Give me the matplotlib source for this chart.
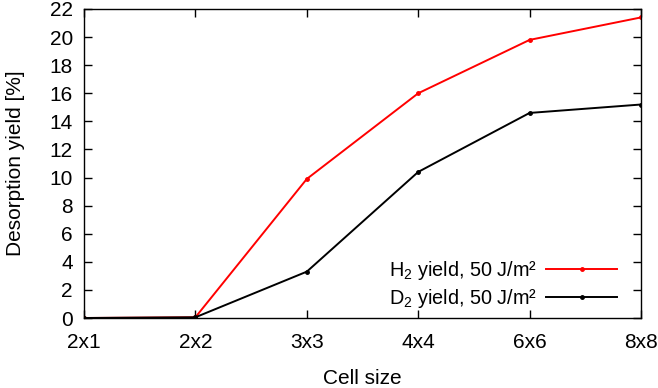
from matplotlib import pyplot as plt
import numpy as np

cell_sizes = ['2x1', '2x2', '3x3', '4x4', '6x6', '8x8']
h2_yield = [0.0, 0.05, 9.9, 16.0, 19.8, 21.4]
d2_yield = [0.0, 0.05, 3.3, 10.4, 14.6, 15.2]

plt.rcParams['font.family'] = ['Liberation Sans', 'DejaVu Sans']
plt.rcParams['mathtext.fontset'] = 'custom'
plt.rcParams['mathtext.rm'] = 'Liberation Sans'
plt.rcParams['mathtext.it'] = 'Liberation Sans'


def main():
    fig = plt.figure(figsize=(6.58, 3.88), dpi=100)
    ax = fig.add_axes([84 / 658, 70 / 388, 557 / 658, 309 / 388])
    x = np.arange(len(cell_sizes))
    ax.plot(x, h2_yield, color='red', lw=1.4, marker='o', ms=2.5,
            label='H$_2$ yield, 50 J/m²')
    ax.plot(x, d2_yield, color='black', lw=1.4, marker='o', ms=2.5,
            label='D$_2$ yield, 50 J/m²')

    ax.set_xlim(0, len(cell_sizes) - 1)
    ax.set_ylim(0, 22)
    ax.set_xticks(x, cell_sizes)
    ax.set_yticks(np.arange(0, 23, 2))
    ax.tick_params(direction='in', top=True, right=True, labelsize=15,
                   length=6, width=1)
    ax.tick_params(axis='x', pad=11)
    ax.tick_params(axis='y', pad=8)
    for s in ax.spines.values():
        s.set_linewidth(1)
    ax.set_xlabel('Cell size', fontsize=15)
    ax.set_ylabel('Desorption yield [%]', fontsize=15)
    ax.xaxis.set_label_coords(0.5, -0.165)
    ax.yaxis.set_label_coords(-0.106, 0.5)

    ax.legend(loc='lower right', frameon=False, markerfirst=False, fontsize=14.3,
              handlelength=3.6, handletextpad=0.45, borderaxespad=0.0,
              labelspacing=0.25, bbox_to_anchor=(0.972, 0.0))
    fig.savefig('out.png')


if __name__ == '__main__':
    main()
